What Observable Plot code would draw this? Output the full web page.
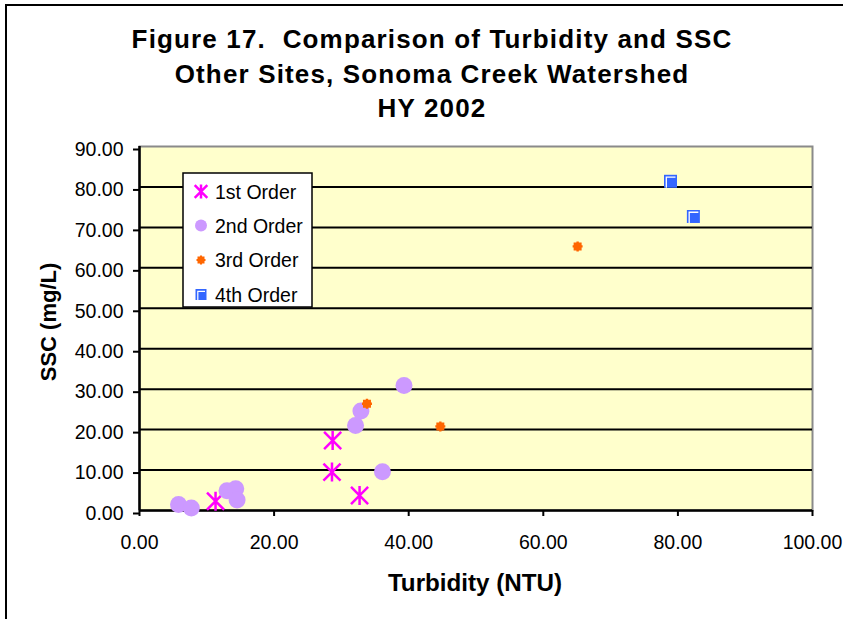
<!DOCTYPE html>
<html>
<head>
<meta charset="utf-8">
<script src="https://cdn.jsdelivr.net/npm/d3@7"></script>
<script src="https://cdn.jsdelivr.net/npm/@observablehq/plot@0.6"></script>
<style>
  html, body { margin: 0; padding: 0; background: #fff; overflow: hidden; }
  #wrap { position: relative; width: 843px; height: 619px; overflow: hidden; font-family: "Liberation Sans", Arial, sans-serif; }
  #wrap svg { position: absolute; left: 0; top: 0; }
  #overlay { pointer-events: none; }
  #overlay text { white-space: pre; }
</style>
</head>
<body>
<div id="wrap"></div>
<script>
// ---- Data ----
const titleLines = ["Figure 17.  Comparison of Turbidity and SSC", "Other Sites, Sonoma Creek Watershed", "HY 2002"];
const xLabel = "Turbidity (NTU)";
const yLabel = "SSC (mg/L)";
const seriesNames = ["1st Order", "2nd Order", "3rd Order", "4th Order"];

const order1X = [11.3, 28.7, 28.6, 32.7];
const order1Y = [2.3, 17.3, 9.5, 3.7];

const order2X = [5.8, 7.7, 13.0, 14.3, 14.5, 32.1, 32.9, 36.1, 39.3];
const order2Y = [1.5, 0.6, 4.9, 5.4, 2.6, 21.0, 24.6, 9.6, 30.9];

const order3X = [33.8, 44.7, 65.1];
const order3Y = [26.4, 20.8, 65.3];

const order4X = [78.9, 82.3];
const order4Y = [81.4, 72.7];

const xTicks = [0, 20, 40, 60, 80, 100];
const yTicks = [0, 10, 20, 30, 40, 50, 60, 70, 80, 90];
const gridY = [10, 20, 30, 40, 50, 60, 70, 80];

// ---- Build tables ----
const toRows = (xs, ys) => xs.map((x, i) => ({x, y: ys[i]}));
const s1 = toRows(order1X, order1Y);
const s2 = toRows(order2X, order2Y);
const s3 = toRows(order3X, order3Y);
const s4 = toRows(order4X, order4Y);

// ---- Custom symbols ----
const rad = size => Math.sqrt(size / Math.PI);
const symAsterisk = {draw(ctx, size) {
  const r = rad(size), d = r * 0.9;
  ctx.moveTo(0, -r); ctx.lineTo(0, r);
  ctx.moveTo(-d, -d); ctx.lineTo(d, d);
  ctx.moveTo(-d, d); ctx.lineTo(d, -d);
}};
const symSquare = {draw(ctx, size) {
  const r = rad(size);
  ctx.rect(-r, -r, 2 * r, 2 * r);
}};
const symNubSquare = {draw(ctx, size) {
  const r = rad(size), n = r * 0.3;
  ctx.moveTo(-r, -r); ctx.lineTo(-n, -r); ctx.lineTo(-n, -r - 1); ctx.lineTo(n, -r - 1); ctx.lineTo(n, -r);
  ctx.lineTo(r, -r); ctx.lineTo(r, -n); ctx.lineTo(r + 1, -n); ctx.lineTo(r + 1, n); ctx.lineTo(r, n);
  ctx.lineTo(r, r); ctx.lineTo(n, r); ctx.lineTo(n, r + 1); ctx.lineTo(-n, r + 1); ctx.lineTo(-n, r);
  ctx.lineTo(-r, r); ctx.lineTo(-r, n); ctx.lineTo(-r - 1, n); ctx.lineTo(-r - 1, -n); ctx.lineTo(-r, -n);
  ctx.closePath();
}};
const symGamma = {draw(ctx, size) {
  const r = rad(size);
  const i = 2.3;
  ctx.moveTo(-r + i, r);
  ctx.lineTo(-r + i, -r + i);
  ctx.lineTo(r - 1.5, -r + i);
}};

const C1 = "#FF00FF", C2 = "#CC99FF", C3 = "#FF6600", C4 = "#3366FF";
const FONT = "'Liberation Sans', Arial, Helvetica, sans-serif";

const W = 843, H = 619;
const plot = Plot.plot({
  width: W,
  height: H,
  marginLeft: 139,
  marginRight: 31,
  marginTop: 146,
  marginBottom: 109,
  style: {fontFamily: FONT, color: "#000", background: "transparent", overflow: "visible"},
  x: {domain: [0, 100]},
  y: {domain: [0, 90]},
  marks: [
    Plot.frame({fill: "#FFFFCC", stroke: "#8a8a8a", strokeWidth: 2}),
    Plot.ruleY(gridY, {stroke: "#000", strokeWidth: 2}),
    Plot.axisX({ticks: xTicks, tickFormat: d => d.toFixed(2), tickSize: 6, tickPadding: 19, fontSize: 19.5, strokeWidth: 2, label: null}),
    Plot.axisY({ticks: yTicks, tickFormat: d => d.toFixed(2), tickSize: 6, tickPadding: 10, fontSize: 19.5, strokeWidth: 2, dy: 3, label: null}),
    Plot.ruleY([0], {stroke: "#000", strokeWidth: 2.5}),
    Plot.ruleX([0], {stroke: "#000", strokeWidth: 2.5}),
    Plot.dot(s1, {x: "x", y: "y", r: 9.5, symbol: symAsterisk, stroke: C1, fill: "none", strokeWidth: 2.5}),
    Plot.dot(s2, {x: "x", y: "y", r: 8.5, symbol: "circle", fill: C2, stroke: "none"}),
    Plot.dot(s3, {x: "x", y: "y", r: 4, symbol: symNubSquare, fill: C3, stroke: "none"}),
    Plot.dot(s4, {x: "x", y: "y", r: 6.5, symbol: symSquare, fill: C4, stroke: "none"}),
    Plot.dot(s4, {x: "x", y: "y", r: 6.5, symbol: symGamma, fill: "none", stroke: "#fff", strokeWidth: 1.3})
  ]
});

const wrap = document.getElementById("wrap");
wrap.appendChild(plot);

// ---- Overlay: outer border, titles, legend ----
const ov = d3.select(wrap).append("svg").attr("id", "overlay")
  .attr("width", W).attr("height", H)
  .style("font-family", FONT);

ov.append("path").attr("d", `M6,${H + 5}V5H${W + 5}`)
  .attr("fill", "none").attr("stroke", "#000").attr("stroke-width", 2);

const titleBaselines = [48, 83, 117];
titleLines.forEach((t, i) => {
  ov.append("text").attr("x", 432).attr("y", titleBaselines[i])
    .attr("text-anchor", "middle").attr("font-weight", "bold")
    .attr("font-size", 26).attr("letter-spacing", 1.15).attr("xml:space", "preserve").text(t);
});

ov.append("text").attr("x", 475).attr("y", 591).attr("text-anchor", "middle")
  .attr("font-weight", "bold").attr("font-size", 24.2).text(xLabel);

ov.append("text").attr("transform", "translate(56,322) rotate(-90)").attr("text-anchor", "middle")
  .attr("font-weight", "bold").attr("font-size", 22).text(yLabel);

// Legend
const lg = ov.append("g");
lg.append("rect").attr("x", 183).attr("y", 173).attr("width", 129).attr("height", 134)
  .attr("fill", "#fff").attr("stroke", "#000").attr("stroke-width", 1.5);
const legendSym = [
  {sym: symAsterisk, size: Math.PI * 7 * 7, fill: "none", stroke: C1, sw: 2.5},
  {sym: d3.symbolCircle, size: Math.PI * 6 * 6, fill: C2, stroke: "none", sw: 0},
  {sym: symNubSquare, size: Math.PI * 3.5 * 3.5, fill: C3, stroke: "none", sw: 0},
  {sym: symSquare, size: Math.PI * 5.5 * 5.5, fill: C4, stroke: "none", sw: 0}
];
const rowY = [191.5, 225.5, 260, 294.5];
seriesNames.forEach((name, i) => {
  const s = legendSym[i];
  lg.append("path").attr("transform", `translate(201,${rowY[i]})`)
    .attr("d", d3.symbol(s.sym, s.size)())
    .attr("fill", s.fill).attr("stroke", s.stroke).attr("stroke-width", s.sw);
  if (i === 3) {
    lg.append("path").attr("transform", `translate(201,${rowY[i]})`)
      .attr("d", d3.symbol(symGamma, Math.PI * 5.5 * 5.5)())
      .attr("fill", "none").attr("stroke", "#fff").attr("stroke-width", 1.2);
  }
  lg.append("text").attr("x", 215).attr("y", rowY[i] + 7).attr("font-size", 19.5).text(name);
});
</script>
</body>
</html>
